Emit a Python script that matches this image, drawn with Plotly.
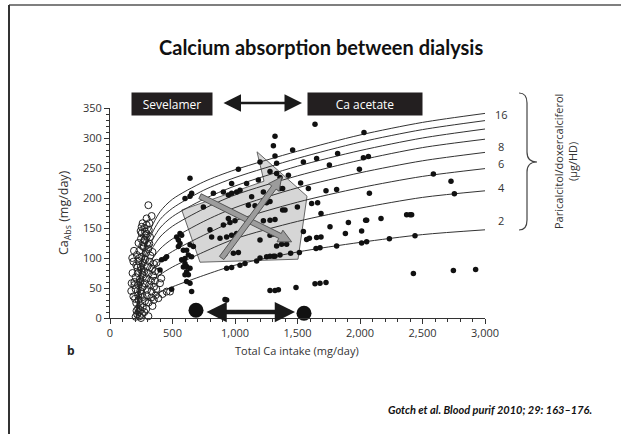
import math
import plotly.graph_objects as go

# ---------------- data ----------------
curve_x = [210, 250, 300, 400, 500, 750, 1000, 1500, 2000, 2500, 3000]
curve_1 = [0, 95, 136, 177, 198, 227, 247, 278, 305, 326, 341]
curve_2 = [0, 88, 125, 164, 183, 213, 234, 266, 293, 314, 329]
curve_3 = [0, 80, 114, 150, 169, 198, 220, 253, 279, 300, 315]
curve_4 = [0, 72, 102, 135, 153, 182, 205, 237, 263, 284, 298]
curve_5 = [0, 61, 86, 115, 132, 161, 184, 217, 242, 262, 276]
curve_6 = [0, 50, 70, 96, 111, 138, 162, 193, 217, 236, 249]
curve_7 = [0, 37, 52, 72, 85, 110, 132, 161, 183, 201, 212]
curve_8 = [0, 22, 30, 43, 52, 71, 88, 110, 126, 139, 147]
curves = [curve_1, curve_2, curve_3, curve_4, curve_5, curve_6, curve_7, curve_8]

dose_labels = ["16", "8", "6", "4", "2"]
dose_label_y = [340, 286, 258, 218, 163]

filled_x = [1640, 2032, 1320, 1307, 1461, 1320, 1821, 1653, 1547, 2027, 2067, 1755, 1995, 1427, 1360, 1525,
            2587, 2728, 1381, 1587, 1728, 1813, 2075, 2755, 1613, 1661, 1381, 1400, 1499, 1688, 1760, 1907,
            2045, 2053, 2168, 2373, 2400, 2413, 2013, 1883, 1547, 1595, 1653, 1688, 1333, 1373, 1413, 1680,
            1648, 1813, 2013, 2053, 2235, 2440, 1445, 1515, 1307, 1360, 2427, 2747, 2925, 1640, 1680, 1728,
            1488, 1280, 1320, 1347,
            640, 1027, 1200, 1333, 973, 827, 907, 653, 600, 947, 973, 1013, 1040, 1093, 1187, 1280, 1333,
            1133, 1227, 1360, 747, 1107, 1160, 1253, 1280, 947, 1013, 1227, 1280, 1320, 800, 907, 960, 1000,
            560, 533, 547, 813, 880, 933, 973, 1013, 1200, 1280, 1307, 1573, 547, 587, 920, 987, 1027, 1200,
            1253, 1280, 1320, 573, 600, 587, 613, 600, 933, 973, 1040, 1080, 1173,
            573, 560, 640, 667, 613, 627, 653, 600, 613, 640, 627, 613, 640, 653, 413, 440, 453, 400, 493,
            933, 920, 640]
filled_y = [323, 309, 303, 287, 280, 270, 274, 266, 260, 267, 269, 255, 248, 238, 234, 225,
            240, 228, 216, 216, 212, 214, 208, 207, 191, 192, 180, 180, 185, 174, 152, 159,
            163, 163, 166, 172, 172, 172, 145, 141, 144, 133, 134, 135, 120, 123, 123, 117,
            116, 120, 125, 127, 132, 137, 108, 109, 103, 105, 74, 79, 81, 57, 58, 59,
            51, 46, 46, 47,
            233, 248, 260, 258, 224, 208, 210, 208, 199, 205, 208, 210, 213, 224, 230, 244, 241,
            202, 210, 216, 185, 188, 187, 192, 194, 166, 172, 162, 163, 164, 147, 155, 159, 162,
            141, 135, 130, 135, 133, 135, 138, 141, 130, 138, 140, 131, 119, 113, 107, 108, 109, 100,
            102, 103, 103, 97, 91, 85, 77, 72, 83, 84, 88, 91, 95,
            138, 124, 122, 119, 113, 105, 102, 99, 86, 83, 72, 61, 58, 44, 97, 99, 102, 80, 48,
            30, 31, 203]

open_x = [307, 333, 293, 315, 261, 253, 280, 293, 253, 315, 280,
          187, 173, 187, 219, 180, 195, 170, 178, 192,
          387, 453, 480, 387, 400, 420, 360, 410, 307, 340, 372, 365,
          205, 218, 230, 225, 245, 262, 238, 255, 212, 275, 248, 290,
          210, 228, 245, 262, 280, 295, 225, 200, 310, 330, 255, 350,
          205, 225, 242, 260, 278, 296, 314, 332, 352, 195, 240, 370,
          205, 222, 240, 258, 275, 292, 310, 328, 345, 362, 250,
          210, 228, 246, 264, 282, 300, 318, 336, 352, 235,
          215, 235, 252, 270, 288, 306, 322, 340, 258,
          228, 248, 266, 284, 302, 320, 275,
          245, 275, 292, 310]
open_y = [188, 170, 166, 158, 158, 152, 144, 155, 141, 124, 130,
          94, 58, 36, 84, 75, 55, 45, 100, 112,
          77, 44, 44, 33, 58, 40, 62, 66, 3, 20, 92, 38,
          2, 6, 10, 16, 13, 18, 3, 7, 12, 10, 0, 15,
          25, 30, 22, 35, 28, 38, 38, 32, 26, 34, 40, 30,
          48, 55, 45, 52, 58, 47, 55, 44, 52, 60, 60, 48,
          68, 75, 65, 72, 78, 66, 74, 62, 70, 78, 80,
          88, 95, 85, 92, 98, 86, 94, 82, 90, 100,
          105, 112, 102, 118, 108, 115, 104, 110, 120,
          125, 132, 126, 138, 122, 135, 130,
          145, 150, 140, 147]

big_dot_x = [688, 1552]
big_dot_y = [13, 8]

# ---------------- layout geometry (pixels) ----------------
W, H = 621, 434
PL, PR, PT, PB = 110, 485, 108, 318
XMAX, YMAX = 3000, 350


def d2p(x, y):
    return PL + x / XMAX * (PR - PL), PB - y / YMAX * (PB - PT)


def p2d(px, py):
    return (px - PL) / (PR - PL) * XMAX, (PB - py) / (PB - PT) * YMAX


def pxp(px):
    return (px - PL) / (PR - PL)


def pyp(py):
    return (PB - py) / (PB - PT)


def arrow_path(tail, tip, hw=2.7, hl=13, hh=6.5):
    tx, ty = d2p(*tail)
    ex, ey = d2p(*tip)
    dx, dy = ex - tx, ey - ty
    ln = math.hypot(dx, dy)
    ux, uy = dx / ln, dy / ln
    nx, ny = -uy, ux
    bx, by = ex - ux * hl, ey - uy * hl
    pts = [(tx + nx * hw, ty + ny * hw), (bx + nx * hw, by + ny * hw), (bx + nx * hh, by + ny * hh),
           (ex, ey), (bx - nx * hh, by - ny * hh), (bx - nx * hw, by - ny * hw), (tx - nx * hw, ty - ny * hw)]
    dpts = [p2d(*p) for p in pts]
    return "M " + " L ".join(f"{x:.1f},{y:.2f}" for x, y in dpts) + " Z"


poly_data = [(574, 180), (1232, 228), (1176, 277), (1360, 243), (1576, 203), (1504, 98), (720, 93)]
arrow_a = ((720, 203), (1453, 127))
arrow_b = ((893, 100), (1373, 235))

fig = go.Figure()

for cy in curves:
    fig.add_trace(go.Scatter(x=curve_x, y=cy, mode="lines",
                             line=dict(color="#333333", width=1, shape="spline", smoothing=0.8),
                             hoverinfo="skip", showlegend=False))

fig.add_trace(go.Scatter(x=open_x, y=open_y, mode="markers",
                         marker=dict(symbol="circle-open", size=7, color="#222222", line=dict(width=1)),
                         showlegend=False, cliponaxis=False))
fig.add_trace(go.Scatter(x=filled_x, y=filled_y, mode="markers",
                         marker=dict(symbol="circle", size=5.5, color="#111111"),
                         showlegend=False, cliponaxis=False))
fig.add_trace(go.Scatter(x=big_dot_x, y=big_dot_y, mode="markers",
                         marker=dict(symbol="circle", size=15, color="#111111"),
                         showlegend=False, cliponaxis=False))

shapes = []
shapes.append(dict(type="path", xref="x", yref="y", layer="below",
                   path="M " + " L ".join(f"{x},{y}" for x, y in poly_data) + " Z",
                   fillcolor="#d6d6d6", line=dict(color="#666666", width=1)))
for a in (arrow_a, arrow_b):
    shapes.append(dict(type="path", xref="x", yref="y", layer="above", path=arrow_path(*a),
                       fillcolor="#9c9c9c", line=dict(color="#555555", width=1)))

# brace on the right
bx0, bx1, bxp = 519, 527, 537
by0, bym, by1 = 93, 162, 230
brace = [("M", bx0, by0), ("Q", bx1, by0, bx1, by0 + 10), ("L", bx1, bym - 10), ("Q", bx1, bym, bxp, bym),
         ("Q", bx1, bym, bx1, bym + 10), ("L", bx1, by1 - 10), ("Q", bx1, by1, bx0, by1)]
path = ""
for seg in brace:
    cmd = seg[0]
    vals = seg[1:]
    coords = []
    for i in range(0, len(vals), 2):
        coords.append(f"{pxp(vals[i]):.4f},{pyp(vals[i+1]):.4f}")
    path += cmd + " " + " ".join(coords) + " "
shapes.append(dict(type="path", xref="paper", yref="paper", path=path,
                   line=dict(color="#444444", width=1.2)))

# frame
shapes.append(dict(type="line", xref="paper", yref="paper", x0=pxp(9), x1=pxp(621), y0=pyp(5), y1=pyp(5),
                   line=dict(color="#7f7f7f", width=2)))
shapes.append(dict(type="line", xref="paper", yref="paper", x0=pxp(9), x1=pxp(9), y0=pyp(5), y1=pyp(434),
                   line=dict(color="#333333", width=2)))

ann = []
FONT = "Open Sans"


def txt(text, px, py, size=11, family=FONT, color="#333333", angle=0, xanchor="center", **kw):
    d = dict(text=text, xref="paper", yref="paper", x=pxp(px), y=pyp(py), showarrow=False,
             xanchor=xanchor, yanchor="middle", textangle=angle,
             font=dict(family=family, size=size, color=color))
    d.update(kw)
    return d


ann.append(txt("<b>Calcium absorption between dialysis</b>", 321, 47, size=20, family="Lato", color="#111111"))
for lab, ly in zip(dose_labels, dose_label_y):
    ann.append(dict(text=lab, xref="paper", yref="y", x=pxp(501), y=ly, showarrow=False,
                    xanchor="center", yanchor="middle",
                    font=dict(family=FONT, size=11, color="#333333")))
ann.append(txt("Paricalcitol/doxercalciferol<br>(µg/HD)", 565, 162, size=11, angle=-90))
ann.append(txt("Ca<sub>Abs</sub> (mg/day)", 64, 213, size=12.5, angle=-90))
ann.append(txt("Total Ca intake (mg/day)", 297, 350, size=11))
ann.append(txt("<b>b</b>", 71, 350, size=12, color="#222222"))
ann.append(txt("<b><i>Gotch et al. Blood purif 2010; 29: 163–176.</i></b>", 594, 409, size=11,
               family="Lato", color="#111111", xanchor="right"))
# drug boxes
for label, cx, w in (("Sevelamer", 172, 78), ("Ca acetate", 365, 112)):
    ann.append(txt(label, cx, 104, size=12, color="#ffffff", width=w, height=20,
                   bgcolor="#231f20", borderpad=1))
# double arrows
ann.append(dict(text="", xref="paper", yref="paper", x=pxp(302), y=pyp(103), ax=-80, ay=0,
                showarrow=True, arrowside="end+start", arrowhead=2, arrowsize=1.4, arrowwidth=2.5,
                arrowcolor="#1a1a1a", standoff=0, startstandoff=0))
ann.append(dict(text="", xref="x", yref="y", x=1480, y=10, ax=-90, ay=0,
                showarrow=True, arrowside="end+start", arrowhead=2, arrowsize=0.9, arrowwidth=4.5,
                arrowcolor="#1a1a1a", standoff=0, startstandoff=0))

fig.update_layout(
    width=W, height=H, margin=dict(l=PL, r=W - PR, t=PT, b=H - PB),
    paper_bgcolor="white", plot_bgcolor="white",
    showlegend=False, shapes=shapes, annotations=ann,
    xaxis=dict(range=[0, XMAX], tickvals=[0, 500, 1000, 1500, 2000, 2500, 3000], tickformat=",",
               showline=True, linecolor="#333333", linewidth=1, ticks="outside", ticklen=5,
               tickcolor="#333333", showgrid=False, zeroline=False,
               tickfont=dict(family=FONT, size=11, color="#333333"),
               minor=dict(dtick=100, ticks="outside", ticklen=3, tickcolor="#333333", showgrid=False)),
    yaxis=dict(range=[0, YMAX], tickvals=[0, 50, 100, 150, 200, 250, 300, 350],
               showline=True, linecolor="#333333", linewidth=1, ticks="outside", ticklen=5,
               tickcolor="#333333", showgrid=False, zeroline=False,
               tickfont=dict(family=FONT, size=11, color="#333333"),
               minor=dict(dtick=10, ticks="outside", ticklen=3, tickcolor="#333333", showgrid=False)),
)

fig.write_html("out.html")
